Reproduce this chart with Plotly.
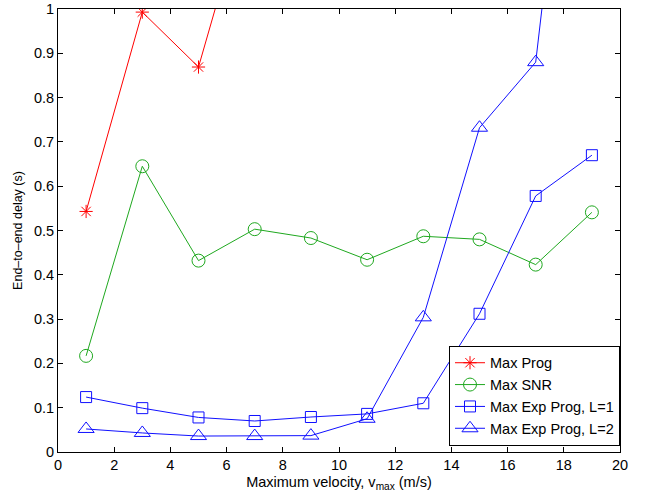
import plotly.graph_objects as go

x_vals = [1, 3, 5, 7, 9, 11, 13, 15, 17, 19]
max_prog_x = [1, 3, 5, 7]
max_prog = [0.543, 0.993, 0.869, 1.31]
max_snr = [0.217, 0.645, 0.432, 0.503, 0.483, 0.434, 0.487, 0.480, 0.423, 0.541]
exp_prog_l1 = [0.124, 0.099, 0.078, 0.070, 0.079, 0.086, 0.110, 0.312, 0.578, 0.670]
exp_prog_l2 = [0.052, 0.043, 0.036, 0.036, 0.037, 0.075, 0.304, 0.732, 0.880, 1.97]

x_ticks = [0, 2, 4, 6, 8, 10, 12, 14, 16, 18, 20]
y_ticks = [0, 0.1, 0.2, 0.3, 0.4, 0.5, 0.6, 0.7, 0.8, 0.9, 1]
y_tick_text = ["0", "0.1", "0.2", "0.3", "0.4", "0.5", "0.6", "0.7", "0.8", "0.9", "1"]

RED = "#ff0000"
GREEN = "#1fa81f"
BLUE = "#1010ff"
FONT = "Liberation Sans, Arial, sans-serif"

fig = go.Figure()
fig.add_trace(go.Scatter(x=max_prog_x, y=max_prog, name="Max Prog", mode="lines+markers",
                         line=dict(color=RED, width=1),
                         marker=dict(symbol="asterisk-open", size=11, color=RED, line=dict(color=RED, width=1))))
fig.add_trace(go.Scatter(x=x_vals, y=max_snr, name="Max SNR", mode="lines+markers",
                         line=dict(color=GREEN, width=1),
                         marker=dict(symbol="circle-open", size=13, color=GREEN, line=dict(color=GREEN, width=1))))
fig.add_trace(go.Scatter(x=x_vals, y=exp_prog_l1, name="Max Exp Prog, L=1", mode="lines+markers",
                         line=dict(color=BLUE, width=1),
                         marker=dict(symbol="square-open", size=11, color=BLUE, line=dict(color=BLUE, width=1))))
fig.add_trace(go.Scatter(x=x_vals, y=exp_prog_l2, name="Max Exp Prog, L=2", mode="lines+markers",
                         line=dict(color=BLUE, width=1),
                         marker=dict(symbol="triangle-up-open", size=14, color=BLUE, line=dict(color=BLUE, width=1))))

axis_common = dict(showline=True, linecolor="black", linewidth=1, mirror="ticks", automargin=False,
                   ticks="inside", ticklen=5, tickcolor="black", showgrid=False, zeroline=False,
                   tickfont=dict(family=FONT, size=14.5, color="black"))

fig.update_xaxes(range=[0, 20], tickvals=x_ticks,
                 title=dict(text="Maximum velocity, v<sub>max</sub> (m/s)", standoff=4,
                            font=dict(family=FONT, size=14.5, color="black")),
                 **axis_common)
fig.update_yaxes(range=[0, 1], tickvals=y_ticks, ticktext=y_tick_text,
                 title=dict(text="End–to–end delay (s)", standoff=8,
                            font=dict(family=FONT, size=12.5, color="black")),
                 **axis_common)

fig.update_layout(
    width=647, height=494,
    margin=dict(l=58, r=27, t=9, b=42),
    plot_bgcolor="white", paper_bgcolor="white",
    font=dict(family=FONT, size=14.5, color="black"),
    legend=dict(x=1, y=0.014, xanchor="right", yanchor="bottom",
                bordercolor="black", borderwidth=1, bgcolor="white",
                font=dict(size=14.5), tracegroupgap=0, itemwidth=30),
)

fig.write_html("out.html", config={"displayModeBar": False},
               post_script="document.body.style.margin='0';document.body.style.padding='0';")
